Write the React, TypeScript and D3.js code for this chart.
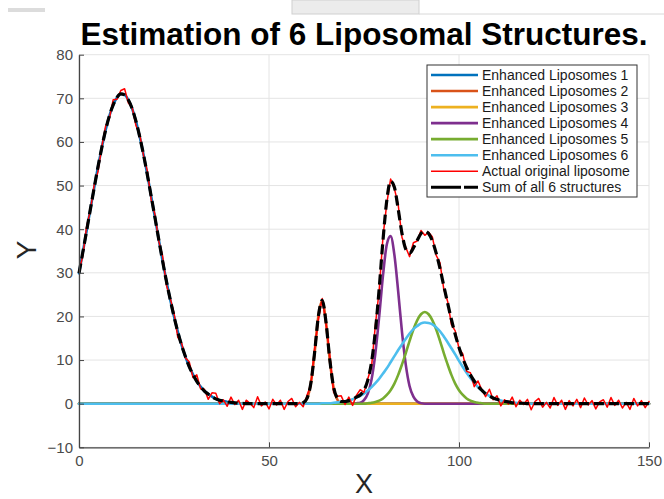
import React, { useEffect, useRef } from "react";
import * as d3 from "d3";

const chartTitle = "Estimation of 6 Liposomal Structures.";
const xLabel = "X";
const yLabel = "Y";

const seriesNames = [
  "Enhanced Liposomes 1",
  "Enhanced Liposomes 2",
  "Enhanced Liposomes 3",
  "Enhanced Liposomes 4",
  "Enhanced Liposomes 5",
  "Enhanced Liposomes 6",
  "Actual original liposome",
  "Sum of all 6 structures",
];
const seriesColors = ["#0072BD", "#D95319", "#EDB120", "#7E2F8E", "#77AC30", "#4DBEEE", "#FF0000", "#000000"];

const xTicks = [0, 50, 100, 150];
const yTicks = [-10, 0, 10, 20, 30, 40, 50, 60, 70, 80];

// each structure is read at x = start, start + 1, ...
const lipo1Start = 0;
const lipo1 = [
  29.9, 34.7, 39.6, 44.6, 49.5, 54.3, 58.7, 62.7, 66.0, 68.5, 70.2, 71.0, 70.8, 69.6, 67.6, 64.7, 61.1, 57.0, 52.4,
  47.5, 42.6, 37.6, 32.7, 28.1, 23.9, 20.0, 16.5, 13.4, 10.8, 8.5, 6.7, 5.1, 3.9, 2.9, 2.2, 1.6, 1.1, 0.8, 0.6, 0.4,
  0.3, 0.2, 0.1, 0.1, 0.0,
];
const lipo2Start = 58;
const lipo2 = [0.0, 0.2, 1.2, 4.6, 11.7, 20.1, 23.6, 18.6, 10.0, 3.6, 0.9, 0.1, 0.0];
const lipo3Start = 0;
const lipo3 = [0.0];
const lipo4Start = 72;
const lipo4 = [0.0, 0.1, 0.2, 0.8, 2.3, 5.6, 11.6, 20.0, 29.4, 36.5, 38.4, 34.1, 25.7, 16.4, 8.9, 4.0, 1.6, 0.5, 0.1, 0.0];
const lipo5Start = 75;
const lipo5 = [
  0.0, 0.1, 0.2, 0.4, 0.7, 1.2, 2.0, 3.1, 4.6, 6.6, 9.0, 11.6, 14.4, 17.0, 19.1, 20.5, 21.0, 20.5, 19.1, 17.0, 14.4,
  11.6, 9.0, 6.6, 4.6, 3.1, 2.0, 1.2, 0.7, 0.4, 0.2, 0.1, 0.0,
];
const lipo6Start = 62;
const lipo6 = [
  0.0, 0.0, 0.1, 0.1, 0.1, 0.2, 0.3, 0.4, 0.5, 0.7, 1.0, 1.4, 1.8, 2.3, 3.0, 3.8, 4.7, 5.7, 6.9, 8.1, 9.5, 10.9, 12.3,
  13.6, 14.9, 16.1, 17.1, 17.8, 18.4, 18.6, 18.5, 18.2, 17.5, 16.6, 15.4, 14.1, 12.7, 11.3, 9.8, 8.4, 7.1, 5.9, 4.8,
  3.8, 3.0, 2.3, 1.8, 1.3, 1.0, 0.7, 0.5, 0.4, 0.2, 0.2, 0.1, 0.1, 0.0,
];

// measured liposome minus the sum, x = 0..150
const residual = [
  0.4, -0.8, 1.0, -0.3, 0.7, -1.1, 0.2, 0.9, -0.6, 1.2,
  -0.4, 0.8, 1.4, -0.7, 0.3, -1.0, 0.6, -0.2, 0.9, -0.8,
  0.7, -0.4, 1.2, -0.9, 0.3, 0.8, -1.3, 0.5, -0.3, 1.1,
  -0.7, 1.5, -0.5, 0.4, -1.2, 0.9, 1.3, -0.8, 0.3, -1.0,
  1.2, -0.4, 0.7, -1.4, 0.8, 0.1, -0.9, 1.6, -0.5, 0.4,
  -1.2, 1.0, -0.3, 0.8, -1.3, 0.5, 1.2, -0.7, 0.3, -0.9,
  0.7, -0.4, 0.9, -0.8, 0.4, -0.3, 1.0, -1.2, 0.5, 1.3,
  -0.7, 0.8, -1.4, 0.4, 1.2, -0.5, 0.3, -1.0, 1.4, -0.4,
  0.8, -0.7, 0.5, -0.3, 1.0, -0.9, 0.4, -0.8, 1.2, -0.1,
  0.7, -1.0, 0.3, 0.9, -0.5, 1.3, -0.8, 0.4, -1.2, 0.8,
  -0.3, 1.0, -0.9, 0.5, -1.3, 1.2, 0.1, -0.7, 1.5, -0.4,
  0.8, -1.2, 0.4, -0.5, 1.3, -0.9, 0.7, -0.3, 1.0, -1.4,
  0.5, 1.2, -0.8, 0.3, -1.0, 1.4, -0.4, 0.8, -1.3, 0.7,
  -0.5, 1.0, -0.9, 1.3, -0.3, 0.7, -1.2, 0.4, 0.9, -0.8,
  1.4, -0.4, 0.8, -1.0, 0.3, -1.3, 1.2, -0.5, 0.7, -0.9,
  0.5,
];

const componentStarts = [lipo1Start, lipo2Start, lipo3Start, lipo4Start, lipo5Start, lipo6Start];
const componentValues = [lipo1, lipo2, lipo3, lipo4, lipo5, lipo6];

const xMin = 0;
const xMax = 150;
const xGrid = d3.range(xMin, xMax + 1);

const sumValues = xGrid.map((xv) =>
  d3.sum(componentValues, (vals, i) => {
    const k = xv - componentStarts[i];
    return k >= 0 && k < vals.length ? vals[k] : 0;
  })
);
const actualValues = sumValues.map((v, i) => v + residual[i]);

function componentPoints(i: number): [number, number][] {
  const s = componentStarts[i];
  const vals = componentValues[i];
  const pts: [number, number][] = vals.map((v, k) => [s + k, v]);
  if (s > xMin) pts.unshift([xMin, 0]);
  if (s + vals.length - 1 < xMax) pts.push([xMax, 0]);
  return pts;
}

const font = "'Liberation Sans', Arial, Helvetica, sans-serif";
const axisColor = "#444444";
const gridColor = "#e4e4e4";

export default function App() {
  const width = 664;
  const height = 499;

  const x = d3.scaleLinear().domain([xMin, xMax]).range([79, 649]);
  const y = d3.scaleLinear().domain([-10, 80]).range([447.3, 54.7]);

  const xAxisRef = useRef<SVGGElement>(null);
  const yAxisRef = useRef<SVGGElement>(null);

  useEffect(() => {
    const styleAxis = (g: any) => {
      g.attr("font-family", font).attr("font-size", 15);
      g.select(".domain").attr("stroke", axisColor).attr("stroke-width", 1.3);
      g.selectAll(".tick line").attr("stroke", axisColor).attr("stroke-width", 1);
      g.selectAll(".tick text").attr("fill", "#4a4a4a");
    };
    d3.select(xAxisRef.current!)
      .call(d3.axisBottom(x).tickValues(xTicks).tickSize(-5).tickSizeOuter(0).tickPadding(8).tickFormat(d3.format("d")))
      .call(styleAxis);
    d3.select(yAxisRef.current!)
      .call(d3.axisLeft(y).tickValues(yTicks).tickSize(-5).tickSizeOuter(0).tickPadding(6).tickFormat(d3.format("d")))
      .call(styleAxis);
  }, []);

  const smooth = d3
    .line<[number, number]>()
    .x((d) => x(d[0]))
    .y((d) => y(d[1]))
    .curve(d3.curveMonotoneX);
  const jagged = d3
    .line<number>()
    .x((_, i) => x(xGrid[i]))
    .y((d) => y(d));
  const sumLine = d3
    .line<number>()
    .x((_, i) => x(xGrid[i]))
    .y((d) => y(d))
    .curve(d3.curveMonotoneX);

  const legend = { x: 427, y: 65, w: 210, h: 132, row: 16.04 };

  return (
    <svg width={width} height={height} style={{ position: "absolute", left: 0, top: 0, background: "#fff" }}>
      {/* bits of the window toolbar cut off at the top */}
      <rect x={8} y={8} width={37} height={4} fill="#dcdcdc" />
      <rect x={292} y={0} width={127} height={14} fill="#ececec" stroke="#d0d0d0" />
      <line x1={419} x2={664} y1={14} y2={14} stroke="#d8d8d8" />

      <text x={364} y={45} textAnchor="middle" fontFamily={font} fontWeight="bold" fontSize={31.5} fill="#000">
        {chartTitle}
      </text>

      <g>
        {yTicks.map((t) => (
          <line key={"gy" + t} x1={x(xMin)} x2={x(xMax)} y1={y(t)} y2={y(t)} stroke={gridColor} strokeWidth={1} />
        ))}
        {xTicks.map((t) => (
          <line key={"gx" + t} x1={x(t)} x2={x(t)} y1={y(-10)} y2={y(80)} stroke={gridColor} strokeWidth={1} />
        ))}
      </g>

      <g fill="none" strokeLinejoin="round" strokeLinecap="round">
        {componentValues.map((_, i) => (
          <path key={i} d={smooth(componentPoints(i)) || ""} stroke={seriesColors[i]} strokeWidth={2.6} />
        ))}
        <path d={jagged(actualValues) || ""} stroke={seriesColors[6]} strokeWidth={1.5} />
        <path
          d={sumLine(sumValues) || ""}
          stroke={seriesColors[7]}
          strokeWidth={3.2}
          strokeDasharray="10,5"
          strokeLinecap="butt"
        />
      </g>

      <g ref={xAxisRef} transform={`translate(0,${y(-10)})`} />
      <g ref={yAxisRef} transform={`translate(${x(xMin)},0)`} />

      <text x={364} y={493} textAnchor="middle" fontFamily={font} fontSize={27} fill="#262626">
        {xLabel}
      </text>
      <text
        transform={`translate(36,250) rotate(-90)`}
        textAnchor="middle"
        fontFamily={font}
        fontSize={28}
        fill="#262626"
      >
        {yLabel}
      </text>

      <g>
        <rect x={legend.x} y={legend.y} width={legend.w} height={legend.h} fill="#fff" stroke="#333" strokeWidth={1} />
        {seriesNames.map((name, i) => {
          const cy = legend.y + 10 + i * legend.row;
          return (
            <g key={name}>
              <line
                x1={legend.x + 4}
                x2={legend.x + 51}
                y1={cy}
                y2={cy}
                stroke={seriesColors[i]}
                strokeWidth={i === 6 ? 1.5 : i === 7 ? 3 : 2.6}
                strokeDasharray={i === 7 ? "30,3,14" : undefined}
              />
              <text x={legend.x + 55} y={cy + 5} fontFamily={font} fontSize={14} fill="#1a1a1a">
                {name}
              </text>
            </g>
          );
        })}
      </g>
    </svg>
  );
}
